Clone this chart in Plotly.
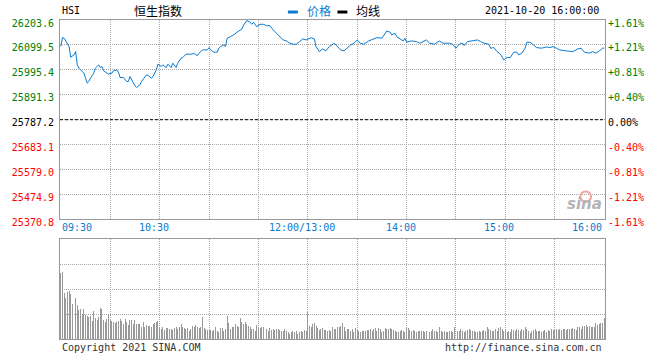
import plotly.graph_objects as go

# ---------------- data ----------------
prev_close = 25787.2
price_ticks = [25370.8, 25474.9, 25579.0, 25683.1, 25787.2, 25891.3, 25995.4, 26099.5, 26203.6]
pct_labels = ["-1.61%", "-1.21%", "-0.81%", "-0.40%", "0.00%", "+0.40%", "+0.81%", "+1.21%", "+1.61%"]

time_ticks = [0, 60, 150, 210, 270, 330]
time_labels = ["09:30", "10:30", "12:00/13:00", "14:00", "15:00", "16:00"]

price_minutes = [0, 1, 2, 4, 5, 6, 8, 9, 10, 11, 13, 14, 15, 16, 17, 18, 20, 21, 23, 24, 25, 26, 28, 29, 31, 32,
                 34, 35, 36, 38, 40, 41, 42, 43, 45, 46, 48, 49, 51, 52, 53, 55, 56, 58, 59, 61, 62, 64, 65, 67,
                 68, 69, 70, 71, 73, 74, 76, 79, 81, 82, 83, 84, 86, 89, 90, 91, 93, 95, 96, 97, 99, 100, 101,
                 103, 105, 107, 109, 110, 111, 113, 115, 116, 117, 119, 121, 123, 125, 127, 129, 131, 133, 135,
                 137, 139, 141, 143, 145, 147, 149, 152, 154, 155, 157, 159, 161, 163, 166, 168, 170, 172, 174,
                 176, 178, 180, 182, 184, 187, 190, 192, 195, 196, 198, 200, 201, 203, 204, 206, 208, 209, 210,
                 213, 216, 218, 222, 224, 227, 230, 232, 236, 238, 240, 242, 244, 245, 247, 250, 253, 255, 257,
                 260, 261, 263, 265, 267, 268, 269, 271, 273, 275, 277, 278, 280, 282, 283, 285, 287, 289, 292,
                 295, 297, 299, 301, 303, 307, 311, 314, 316, 318, 321, 323, 325, 327, 329, 330]
price_values = [26092.4, 26129.9, 26127.4, 26099.5, 26092.4, 26048.3, 26057.9, 26071.6, 26016.2, 26002.5,
                25991.3, 25981.7, 25960.9, 25940.0, 25946.7, 25960.9, 25981.7, 26002.5, 26016.2, 26005.0,
                26009.2, 25991.3, 25981.7, 25977.5, 25981.7, 25991.3, 25995.4, 25985.8, 25963.4, 25963.4,
                25946.7, 25946.7, 25967.5, 25953.8, 25928.8, 25921.7, 25933.0, 25946.7, 25967.5, 25974.6,
                25971.7, 25960.9, 25967.5, 25995.4, 26019.2, 26009.2, 26016.2, 26005.0, 26019.2, 26005.0,
                26023.3, 26016.2, 26005.0, 26023.3, 26044.1, 26046.6, 26060.8, 26060.8, 26063.3, 26057.9,
                26055.0, 26065.0, 26078.7, 26078.7, 26088.3, 26078.7, 26069.1, 26069.1, 26085.8, 26092.4,
                26099.5, 26092.4, 26127.4, 26134.1, 26141.2, 26152.4, 26162.0, 26166.1, 26182.8, 26201.0,
                26194.0, 26185.7, 26194.0, 26175.7, 26185.7, 26185.7, 26179.9, 26179.9, 26162.0, 26148.2,
                26134.1, 26120.3, 26116.2, 26106.6, 26102.4, 26102.4, 26113.3, 26124.5, 26120.3, 26129.9,
                26124.5, 26092.4, 26071.6, 26082.9, 26074.5, 26092.4, 26106.6, 26092.4, 26078.7, 26074.5,
                26085.8, 26099.5, 26106.6, 26120.3, 26106.6, 26102.4, 26116.2, 26124.5, 26129.9, 26127.4,
                26138.2, 26157.8, 26152.4, 26141.2, 26148.2, 26134.1, 26124.5, 26116.2, 26127.4, 26110.8,
                26116.2, 26113.3, 26106.6, 26120.3, 26106.6, 26102.4, 26116.2, 26106.6, 26106.6, 26102.4,
                26085.8, 26102.4, 26106.6, 26096.6, 26113.3, 26116.2, 26120.3, 26113.3, 26106.6, 26102.4,
                26085.8, 26088.3, 26071.6, 26060.8, 26046.6, 26037.1, 26046.6, 26046.6, 26069.1, 26069.1,
                26057.9, 26065.0, 26085.8, 26110.8, 26110.8, 26099.5, 26088.3, 26085.8, 26091.2, 26088.3,
                26092.4, 26085.8, 26078.7, 26074.5, 26071.6, 26082.9, 26085.8, 26069.1, 26065.0, 26071.6,
                26065.0, 26074.5, 26085.8, 26085.8]

# per-minute volume (relative units), 331 bars from 09:30 to 16:00
volume = [66, 67, 46, 41, 47, 48, 45, 35, 37, 41, 34, 29, 30, 25, 30, 24, 23, 22, 23, 18, 28, 21, 19, 22, 31, 30,
          19, 17, 20, 25, 19,
          18, 17, 16, 17, 18, 20, 18, 15, 20, 17, 14, 19, 19, 15, 19, 15, 15, 15, 12, 17, 12, 14, 13, 13, 12, 15,
          16, 17, 18,
          12, 10, 12, 9, 11, 11, 10, 10, 9, 11,
          12, 10, 12, 15, 12, 11, 10, 11, 8, 10,
          13, 12, 14, 12, 11, 12, 22, 11, 10, 9,
          10, 9, 8, 9, 12, 8, 7, 11, 11, 8,
          10, 23, 16, 10, 12, 12, 15, 13, 12, 21,
          17, 15, 17, 15, 13, 12, 10, 10, 8, 14,
          12, 11, 12, 12, 10, 10, 8, 11, 9, 10,
          9, 10, 10, 9, 8, 8, 10, 8, 7, 5,
          7, 8, 7, 8, 5, 7, 8, 7, 9, 8,
          27,
          13, 12, 15, 16, 13, 11, 9, 10, 11, 9, 9, 8, 9,
          8, 12, 10, 10, 12, 12, 13, 16, 12, 8,
          10, 10, 8, 10, 7, 11, 9, 8, 7, 8,
          8, 8, 9, 9, 10, 8, 10, 11, 8, 11,
          10, 7, 8, 11, 10, 10, 11, 10, 9, 8,
          7, 7, 8, 9, 8, 7, 12, 11, 9, 8,
          9, 8, 7, 8, 8, 8, 8, 7, 8, 7,
          7, 8, 10, 8, 8, 7, 12, 8, 7, 8,
          7, 7, 8, 8, 7, 12, 11, 8, 8, 10,
          8, 7, 8, 9, 10, 9, 8, 8, 7, 7,
          8, 7, 8, 9, 8, 12, 10, 9, 8, 8,
          10, 8, 11, 12, 10, 8, 10, 7, 8, 7,
          10, 9, 8, 10, 9, 8, 10, 9, 12, 10,
          8, 6, 8, 9, 10, 8, 8, 8, 7, 8,
          9, 7, 9, 8, 10, 9, 9, 10, 9, 10,
          9, 10, 10, 9, 10, 10, 10, 11, 10, 9,
          12, 12, 10, 13, 13, 14, 12, 13, 12, 12,
          12, 16, 14, 15, 16, 16, 21]
volume_minutes = list(range(len(volume)))

# ---------------- styling ----------------
MONO = "DejaVu Sans Mono"
CJK = "Noto Sans CJK SC"
BLUE = "#0b7ad0"
GREEN = "#008000"
RED = "#ff0000"
GRID = "#a8a8a8"
FRAME = "#999999"


def colored(v, text):
    c = GREEN if v > prev_close + 1e-6 else (RED if v < prev_close - 1e-6 else "#000000")
    return f'<span style="color:{c}">{text}</span>'


left_text = [colored(v, f"{v:.1f}") for v in price_ticks]
right_text = [colored(v, t) for v, t in zip(price_ticks, pct_labels)]
grid_minutes = list(range(30, 330, 30))

fig = go.Figure()
fig.add_trace(go.Scatter(x=price_minutes, y=price_values, mode="lines",
                         line=dict(color=BLUE, width=1), xaxis="x", yaxis="y",
                         showlegend=False, hoverinfo="skip"))
fig.add_trace(go.Bar(x=volume_minutes, y=volume, marker=dict(color="#999999", line=dict(width=0)),
                     width=0.6, xaxis="x2", yaxis="y3", showlegend=False, hoverinfo="skip"))

xcommon = dict(range=[-0.5, 330.5], tickvals=grid_minutes, showticklabels=False, ticks="",
               showgrid=True, gridcolor=GRID, griddash="1px,1px", gridwidth=1,
               showline=True, mirror=True, linecolor=FRAME, linewidth=1, zeroline=False, fixedrange=True)

fig.update_layout(
    width=660, height=360,
    margin=dict(l=55, r=55, t=20, b=20),
    paper_bgcolor="white", plot_bgcolor="white",
    bargap=0,
    xaxis=dict(domain=[0, 1], anchor="y", **xcommon),
    xaxis2=dict(domain=[0, 1], anchor="y3", matches="x", **xcommon),
    yaxis=dict(domain=[0.375, 1], range=[price_ticks[0], price_ticks[-1]], tickvals=price_ticks,
               ticktext=left_text, ticks="", showgrid=True, gridcolor=GRID, griddash="1px,1px",
               showline=True, mirror=True, linecolor=FRAME, linewidth=1, zeroline=False,
               tickfont=dict(family=MONO, size=10), ticklabelshift=3, ticklabelstandoff=3),
    yaxis2=dict(overlaying="y", side="right", range=[price_ticks[0], price_ticks[-1]],
                tickvals=price_ticks, ticktext=right_text, ticks="", showgrid=False,
                showline=False, zeroline=False, tickfont=dict(family=MONO, size=10),
                ticklabelshift=3, ticklabelstandoff=2),
    yaxis3=dict(domain=[0, 0.3125], range=[0, 100], tickvals=[25, 50, 75], showticklabels=False,
                ticks="", showgrid=True, gridcolor=GRID, griddash="1px,1px",
                showline=True, mirror=True, linecolor=FRAME, linewidth=1, zeroline=False),
)

# dummy trace so yaxis2 is drawn
fig.add_trace(go.Scatter(x=[None], y=[None], xaxis="x", yaxis="y2", showlegend=False, hoverinfo="skip"))

# previous close dashed line
fig.add_shape(type="line", xref="x domain", yref="y", x0=0, x1=1, y0=prev_close, y1=prev_close,
              line=dict(color="#000000", width=1, dash="3px,2px"))

ann = []
# time labels
for t, lab in zip(time_ticks, time_labels):
    if t == time_ticks[0]:
        ann.append(dict(x=t, xref="x", xanchor="left", xshift=-1, text=lab))
    elif t == time_ticks[-1]:
        ann.append(dict(x=t, xref="x", xanchor="right", xshift=0, text=lab))
    else:
        ann.append(dict(x=t, xref="x", xanchor="center", xshift=-6, text=lab))
for a in ann:
    a.update(y=0.35, yref="paper", yanchor="middle", showarrow=False,
             font=dict(family=MONO, size=10, color=BLUE))

# header
ann += [
    dict(x=0, y=1.031, xref="paper", yref="paper", xanchor="left", yanchor="middle", text="HSI",
         showarrow=False, font=dict(family=MONO, size=10, color="#000000")),
    dict(x=0.18, y=1.031, xref="paper", yref="paper", xanchor="center", yanchor="middle", text="恒生指数",
         showarrow=False, font=dict(family=CJK, size=12, color="#000000")),
    dict(x=0.4491, y=1.031, xref="paper", yref="paper", xanchor="left", yanchor="middle", text="价格",
         showarrow=False, font=dict(family=CJK, size=12, color=BLUE)),
    dict(x=0.54, y=1.031, xref="paper", yref="paper", xanchor="left", yanchor="middle", text="均线",
         showarrow=False, font=dict(family=CJK, size=12, color="#000000")),
    dict(x=0.9927, y=1.031, xref="paper", yref="paper", xanchor="right", yanchor="middle",
         text="2021-10-20 16:00:00", showarrow=False, font=dict(family=MONO, size=10, color="#000000")),
    dict(x=0, y=-0.028, xref="paper", yref="paper", xanchor="left", yanchor="middle",
         text="Copyright 2021 SINA.COM", showarrow=False, font=dict(family=MONO, size=10, color="#333333")),
    dict(x=0.998, y=-0.028, xref="paper", yref="paper", xanchor="right", yanchor="middle",
         text="http://finance.sina.com.cn", showarrow=False, font=dict(family=MONO, size=10, color="#333333")),
    dict(x=0.963, y=0.423, xref="paper", yref="paper", xanchor="center", yanchor="middle",
         text="<b><i>sina</i></b>", showarrow=False, font=dict(family="DejaVu Sans", size=15, color="#b4b4b4")),
]
fig.update_layout(annotations=ann)

# legend swatches
fig.add_shape(type="rect", xref="paper", yref="paper", x0=0.4182, x1=0.4364, y0=1.0203, y1=1.0297,
              fillcolor=BLUE, line=dict(width=0))
fig.add_shape(type="rect", xref="paper", yref="paper", x0=0.5091, x1=0.5273, y0=1.0203, y1=1.0297,
              fillcolor="#000000", line=dict(width=0))
# sina eye mark
fig.add_shape(type="circle", xref="paper", yref="paper", x0=0.9545, x1=0.9745, y0=0.43, y1=0.462,
              line=dict(color="#f2a0a0", width=2), fillcolor="rgba(0,0,0,0)")

fig.write_html("out.html", config={"displayModeBar": False, "staticPlot": True},
               post_script="document.body.style.margin='0';document.body.style.padding='0';")
